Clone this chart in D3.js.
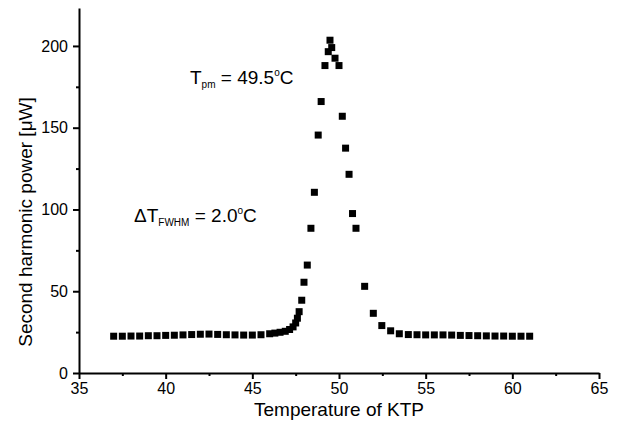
<!DOCTYPE html>
<html>
<head>
<meta charset="utf-8">
<script src="https://cdn.jsdelivr.net/npm/d3@7"></script>
<style>
  body { margin: 0; background: #fff; }
  svg text { font-family: "Liberation Sans", Arial, Helvetica, sans-serif; fill: #000; }
  .axis path, .axis line { stroke: #000; stroke-width: 2; }
  .axis text { font-size: 16px; }
</style>
</head>
<body>
<svg id="chart"></svg>
<script>
// measured temperature of KTP (deg C) and second harmonic power (uW)
const temps = [37, 37.5, 38, 38.5, 39, 39.5, 40, 40.5, 41, 41.5, 42, 42.5, 43, 43.5, 44, 44.5, 45, 45.5,
  46.0, 46.3, 46.6, 46.9, 47.15, 47.35, 47.5, 47.6, 47.7, 47.85, 47.98, 48.17, 48.38, 48.58, 48.8, 48.97,
  49.19, 49.38, 49.48, 49.58, 49.77, 50.0, 50.19, 50.38, 50.58, 50.78, 50.98, 51.48, 51.98, 52.47, 52.98,
  53.48, 54, 54.5, 55, 55.5, 56, 56.5, 57, 57.5, 58, 58.5, 59, 59.5, 60, 60.5, 61];
const power = [22.5, 22.5, 22.6, 22.6, 22.8, 22.8, 23.0, 23.1, 23.3, 23.5, 23.7, 23.8, 23.6, 23.4, 23.3, 23.2, 23.2, 23.4,
  24.0, 24.4, 24.9, 25.5, 26.6, 28.2, 30.6, 33.5, 37.5, 44.5, 55.5, 66, 88.5, 110.5, 145.5, 166,
  188, 196.5, 203.5, 199, 192.5, 188, 157, 137.5, 121.5, 97.5, 88.5, 53, 36.5, 29, 25.8,
  24.0, 23.5, 23.4, 23.3, 23.3, 23.3, 23.2, 23.0, 22.9, 22.8, 22.7, 22.6, 22.6, 22.5, 22.5, 22.5];

const xTicks = [35, 40, 45, 50, 55, 60, 65];
const yTicks = [0, 50, 100, 150, 200];

const width = 618, height = 430;
const margin = { top: 8, right: 19, bottom: 57, left: 79 };
const w = width - margin.left - margin.right;
const h = height - margin.top - margin.bottom;

const svg = d3.select('#chart').attr('width', width).attr('height', height);
const chart = svg.append('g').attr('transform', `translate(${margin.left},${margin.top})`);

const x = d3.scaleLinear().domain([35, 65]).range([0, w]);
const y = d3.scaleLinear().domain([0, 223.2]).range([h, 0]);

// minor ticks first (no labels)
chart.append('g')
  .attr('class', 'axis')
  .attr('transform', `translate(0,${h})`)
  .call(d3.axisBottom(x).tickValues(d3.range(37.5, 65, 5)).tickSize(3).tickSizeOuter(0).tickFormat(''))
  .call(g => g.select('.domain').remove());
chart.append('g')
  .attr('class', 'axis')
  .call(d3.axisLeft(y).tickValues([25, 75, 125, 175]).tickSize(3).tickSizeOuter(0).tickFormat(''))
  .call(g => g.select('.domain').remove());

// main axes
chart.append('g')
  .attr('class', 'axis')
  .attr('transform', `translate(0,${h})`)
  .call(d3.axisBottom(x).tickValues(xTicks).tickSize(6).tickPadding(4).tickSizeOuter(0));
chart.append('g')
  .attr('class', 'axis')
  .call(d3.axisLeft(y).tickValues(yTicks).tickSize(6).tickPadding(5).tickSizeOuter(0));

// data markers
const sz = 7;
chart.selectAll('rect.pt')
  .data(temps.map((t, i) => ({ t, p: power[i] })))
  .join('rect')
  .attr('class', 'pt')
  .attr('x', d => x(d.t) - sz / 2)
  .attr('y', d => y(d.p) - sz / 2)
  .attr('width', sz)
  .attr('height', sz)
  .attr('fill', '#000');

// axis titles
svg.append('text')
  .attr('x', margin.left + w / 2)
  .attr('y', 416)
  .attr('text-anchor', 'middle')
  .style('font-size', '19px')
  .text('Temperature of KTP');

svg.append('text')
  .attr('transform', `translate(32,222) rotate(-90)`)
  .attr('text-anchor', 'middle')
  .style('font-size', '19px')
  .text('Second harmonic power [\u03bcW]');

// annotations
const t1 = svg.append('text').attr('x', 190).attr('y', 84).style('font-size', '19px');
t1.append('tspan').text('T');
t1.append('tspan').attr('dy', 4).style('font-size', '10px').text('pm');
t1.append('tspan').attr('dy', -4).text(' = 49.5');
t1.append('tspan').attr('dy', -8).style('font-size', '10px').text('o');
t1.append('tspan').attr('dy', 8).text('C');

const t2 = svg.append('text').attr('x', 134).attr('y', 222).style('font-size', '19px');
t2.append('tspan').text('\u0394T');
t2.append('tspan').attr('dy', 4).style('font-size', '10px').text('FWHM');
t2.append('tspan').attr('dy', -4).text(' = 2.0');
t2.append('tspan').attr('dy', -8).style('font-size', '10px').text('o');
t2.append('tspan').attr('dy', 8).text('C');
</script>
</body>
</html>
